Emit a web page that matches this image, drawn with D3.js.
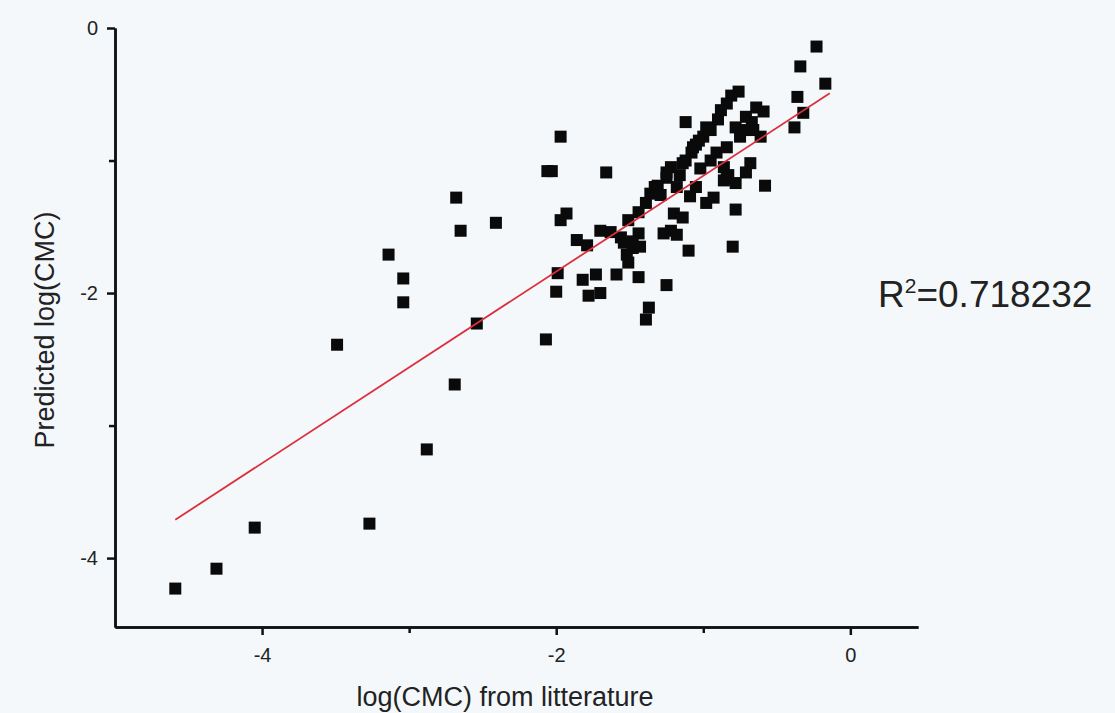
<!DOCTYPE html>
<html>
<head>
<meta charset="utf-8">
<script src="https://cdn.jsdelivr.net/npm/d3@7"></script>
<style>
  html, body { margin: 0; padding: 0; background: #f4f8fb; }
  svg { display: block; }
  text { font-family: "Liberation Sans", Arial, sans-serif; }
</style>
</head>
<body>
<div id="scatter"></div>
<script>
// literature values (x) and predicted values (y)
var xValues = [
  -4.59, -4.31, -4.05, -3.27, -3.49, -3.14, -3.04, -3.04, -2.88, -2.69,
  -2.68, -2.65, -2.54, -2.41, -2.07, -2.06, -2.03, -1.97, -1.66, -1.93,
  -1.97, -1.86, -1.79, -1.70, -1.63, -1.56, -1.54, -1.48, -1.43, -1.52,
  -1.51, -1.99, -2.00, -1.82, -1.73, -1.78, -1.70, -1.59, -1.44, -1.25,
  -1.37, -1.39, -1.10, -0.80, -0.78, -1.27, -1.22, -1.18, -1.20, -1.14,
  -0.98, -0.93, -0.58, -0.86, -0.78, -0.84, -0.86, -0.83, -0.68, -0.71,
  -0.95, -0.91, -0.84, -0.73, -0.78, -0.61, -0.75, -0.66, -0.76, -0.81,
  -0.84, -0.64, -0.59, -0.71, -0.67, -0.90, -1.12, -0.98, -1.00, -1.05,
  -1.08, -1.12, -1.02, -1.22, -1.16, -1.25, -1.18, -1.33, -1.36, -1.29,
  -1.05, -1.09, -1.39, -1.44, -1.51, -1.44, -1.48, -1.25, -1.31, -0.38,
  -0.32, -0.36, -0.17, -0.34, -0.23, -0.95, -1.07, -1.03, -0.88, -1.14
]
var yValues = [
  -4.23, -4.08, -3.77, -3.74, -2.39, -1.71, -1.89, -2.07, -3.18, -2.69,
  -1.28, -1.53, -2.23, -1.47, -2.35, -1.08, -1.08, -0.82, -1.09, -1.40,
  -1.45, -1.60, -1.64, -1.53, -1.54, -1.58, -1.62, -1.66, -1.65, -1.71,
  -1.77, -1.85, -1.99, -1.90, -1.86, -2.02, -2.00, -1.86, -1.88, -1.94,
  -2.11, -2.20, -1.68, -1.65, -1.37, -1.55, -1.53, -1.56, -1.40, -1.43,
  -1.32, -1.28, -1.19, -1.15, -1.17, -1.13, -1.05, -1.11, -1.02, -1.09,
  -1.00, -0.94, -0.90, -0.77, -0.75, -0.82, -0.82, -0.77, -0.48, -0.51,
  -0.57, -0.60, -0.63, -0.67, -0.71, -0.69, -0.71, -0.75, -0.82, -0.88,
  -0.94, -1.00, -1.06, -1.05, -1.11, -1.13, -1.20, -1.20, -1.25, -1.26,
  -1.20, -1.27, -1.32, -1.39, -1.45, -1.55, -1.61, -1.09, -1.19, -0.75,
  -0.64, -0.52, -0.42, -0.29, -0.14, -0.77, -0.90, -0.85, -0.62, -1.02
]

// fitted line and its score
var fitSlope = 0.723
var fitIntercept = -0.392
var fitRange = [-4.59, -0.14]
var rSquared = "0.718232"

// ticks
var xMajorTicks = [-4, -2, 0]
var xMinorTicks = [-3, -1]
var yMajorTicks = [0, -2, -4]
var yMinorTicks = [-1, -3]

var width = 1115,
    height = 713

var svg = d3.select("#scatter")
  .append("svg")
    .attr("width", width)
    .attr("height", height)

svg.append("rect")
  .attr("width", width)
  .attr("height", height)
  .attr("fill", "#f4f8fb")

var x = d3.scaleLinear()
  .domain([-5, 0.46])
  .range([115, 918])

var y = d3.scaleLinear()
  .domain([-4.52, 0])
  .range([627, 28])

// plain hyphen minus, like the original
var plain = function(d) { return String(d) }

// axes (major ticks with labels, minor ticks without)
function styleAxis(g) {
  g.select(".domain").attr("stroke", "#111").attr("stroke-width", 2.5)
  g.selectAll(".tick line").attr("stroke", "#111").attr("stroke-width", 2.5)
  g.selectAll(".tick text")
    .attr("fill", "#222")
    .style("font-size", "20px")
    .style("font-family", "'Liberation Sans', Arial, sans-serif")
}

svg.append("g")
  .attr("transform", "translate(0,627)")
  .call(d3.axisBottom(x).tickValues(xMinorTicks).tickSize(6).tickSizeOuter(0).tickFormat(""))
  .call(styleAxis)

svg.append("g")
  .attr("transform", "translate(0,627)")
  .call(d3.axisBottom(x).tickValues(xMajorTicks).tickSize(8).tickPadding(13).tickSizeOuter(0).tickFormat(plain))
  .call(styleAxis)

svg.append("g")
  .attr("transform", "translate(115,0)")
  .call(d3.axisLeft(y).tickValues(yMinorTicks).tickSize(6).tickSizeOuter(0).tickFormat(""))
  .call(styleAxis)

svg.append("g")
  .attr("transform", "translate(115,0)")
  .call(d3.axisLeft(y).tickValues(yMajorTicks).tickSize(8).tickPadding(9).tickSizeOuter(0).tickFormat(plain))
  .call(styleAxis)

// points
svg.selectAll("rect.pt")
  .data(d3.zip(xValues, yValues))
  .enter()
  .append("rect")
    .attr("class", "pt")
    .attr("x", function(d) { return x(d[0]) - 6 })
    .attr("y", function(d) { return y(d[1]) - 6 })
    .attr("width", 12)
    .attr("height", 12)
    .attr("fill", "#0a0a0a")

// regression line
var line = d3.line()
  .x(function(d) { return x(d) })
  .y(function(d) { return y(fitSlope * d + fitIntercept) })

svg.append("path")
  .datum(fitRange)
  .attr("d", line)
  .attr("fill", "none")
  .attr("stroke", "#dc2f3c")
  .attr("stroke-width", 1.8)

// axis titles
svg.append("text")
  .attr("x", 505)
  .attr("y", 706)
  .attr("text-anchor", "middle")
  .attr("fill", "#222")
  .style("font-size", "27px")
  .text("log(CMC) from litterature")

svg.append("text")
  .attr("transform", "translate(54,330) rotate(-90)")
  .attr("text-anchor", "middle")
  .attr("fill", "#222")
  .style("font-size", "27px")
  .text("Predicted log(CMC)")

// R squared label
var r2 = svg.append("text")
  .attr("x", 878)
  .attr("y", 307)
  .attr("fill", "#222")
  .style("font-size", "37px")
r2.append("tspan").text("R")
r2.append("tspan").attr("dy", -14).style("font-size", "21px").text("2")
r2.append("tspan").attr("dy", 14).text("=" + rSquared)
</script>
</body>
</html>
